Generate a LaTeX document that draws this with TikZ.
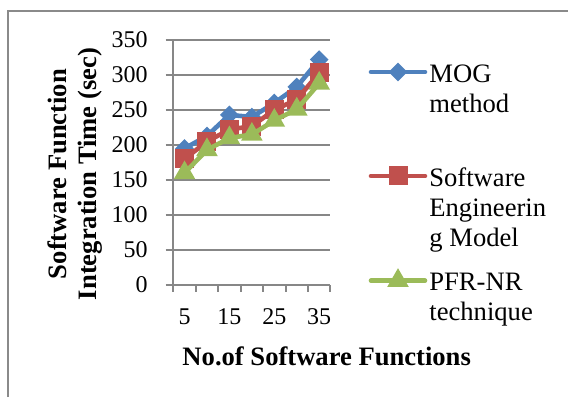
\documentclass[tikz,border=0pt]{standalone}
\usepackage{fontspec}
\setmainfont{Liberation Serif}
\usepackage{xcolor}
\usepackage{tikz}
\usetikzlibrary{shapes.geometric}
\definecolor{mogblue}{HTML}{4F81BD}
\definecolor{sered}{HTML}{C0504D}
\definecolor{pfrgreen}{HTML}{9BBB59}
\definecolor{gridgray}{HTML}{878787}
\definecolor{framegray}{HTML}{8A8A8A}

\begin{document}
\begin{tikzpicture}[x=0.5pt,y=0.5pt,
    gridline/.style={draw=gridgray,line width=1pt},
    serline/.style={line width=2.3pt,line join=round,line cap=round},
    mogmark/.style={diamond,fill=mogblue,inner sep=0pt,
      minimum width=9.5pt,minimum height=9.5pt},
    semark/.style={rectangle,fill=sered,inner sep=0pt,minimum size=9.5pt},
    pfrmark/.style={regular polygon,regular polygon sides=3,fill=pfrgreen,
      inner sep=0pt,minimum size=12.5pt},
    ticklabel/.style={font=\fontsize{12}{14}\selectfont,inner sep=0pt},
    legtext/.style={font=\fontsize{13.3}{15}\selectfont,align=left,
      inner sep=0pt,anchor=base west},
    axistitle/.style={font=\fontsize{13.3}{15}\selectfont\bfseries,
      align=center,inner sep=0pt}]
  \useasboundingbox (0,0) rectangle (568,397);
  % frame of the chart, only its left and top sides are in view
  \draw[framegray,line width=1pt] (8,0) -- (8,386) -- (568,386);

  % plot area: x in categories, y in seconds
  \begin{scope}[shift={(173.3,112)},x=11.225pt,y=0.35pt]
    \foreach \v in {0,50,...,350} {
      \draw[gridline] (-0.34,\v) -- (7,\v);
      \node[ticklabel,anchor=east] (ylab\v) at (-1.13,\v) {\v};
    }
    \draw[gridline] (0,0) -- (0,350);
    \foreach \k in {0,...,7}
      \draw[gridline] (\k,0) -- (\k,-9.6);
    \foreach \n/\i in {5/1,15/3,25/5,35/7}
      \node[ticklabel,anchor=base] (xlab\n) at (\i-0.5,-57) {\n};

    % data points
    \foreach \v [count=\i] in {195,213,243,240,260,283,322}
      \coordinate (mog\i) at (\i-0.5,\v);
    \foreach \v [count=\i] in {180,205,222,227,250,265,303}
      \coordinate (se\i) at (\i-0.5,\v);
    \foreach \v [count=\i] in {160,193,210,215,235,251,288}
      \coordinate (pfr\i) at (\i-0.5,\v);

    \draw[serline,mogblue] (mog1) \foreach \i in {2,...,7} {-- (mog\i)};
    \foreach \i in {1,...,7}
      \node[mogmark] (mogm\i) at (mog\i) {};
    \draw[serline,sered] (se1) \foreach \i in {2,...,7} {-- (se\i)};
    \foreach \i in {1,...,7}
      \node[semark] (sem\i) at (se\i) {};
    \draw[serline,pfrgreen] (pfr1) \foreach \i in {2,...,7} {-- (pfr\i)};
    \foreach \i in {1,...,7}
      \node[pfrmark] (pfrm\i) at (pfr\i) {};
  \end{scope}

  % legend
  \coordinate (legmog) at (398,325);
  \coordinate (legse) at (398,221);
  \coordinate (legpfr) at (398,116.3);
  \draw[serline,mogblue] ([xshift=-13.5pt]legmog) -- ([xshift=13.5pt]legmog);
  \draw[serline,sered] ([xshift=-13.5pt]legse) -- ([xshift=13.5pt]legse);
  \draw[serline,pfrgreen] ([xshift=-13.5pt]legpfr) -- ([xshift=13.5pt]legpfr);
  \node[mogmark] (legmogm) at (legmog) {};
  \node[semark] (legsem) at (legse) {};
  \node[pfrmark] (legpfrm) at (legpfr) {};
  \node[legtext] (txtmog) at (429,285) {MOG\\method};
  \node[legtext] (txtse) at (429,150.3) {Software\\Engineerin\\g Model};
  \node[legtext] (txtpfr) at (429,77) {PFR-NR\\technique};

  % axis titles
  \node[axistitle,rotate=90] (ytitle) at (75,223)
    {Software Function\\Integration Time (sec)};
  \node[axistitle,anchor=base] (xtitle) at (326.7,32)
    {No.of Software Functions};
\end{tikzpicture}
\end{document}
